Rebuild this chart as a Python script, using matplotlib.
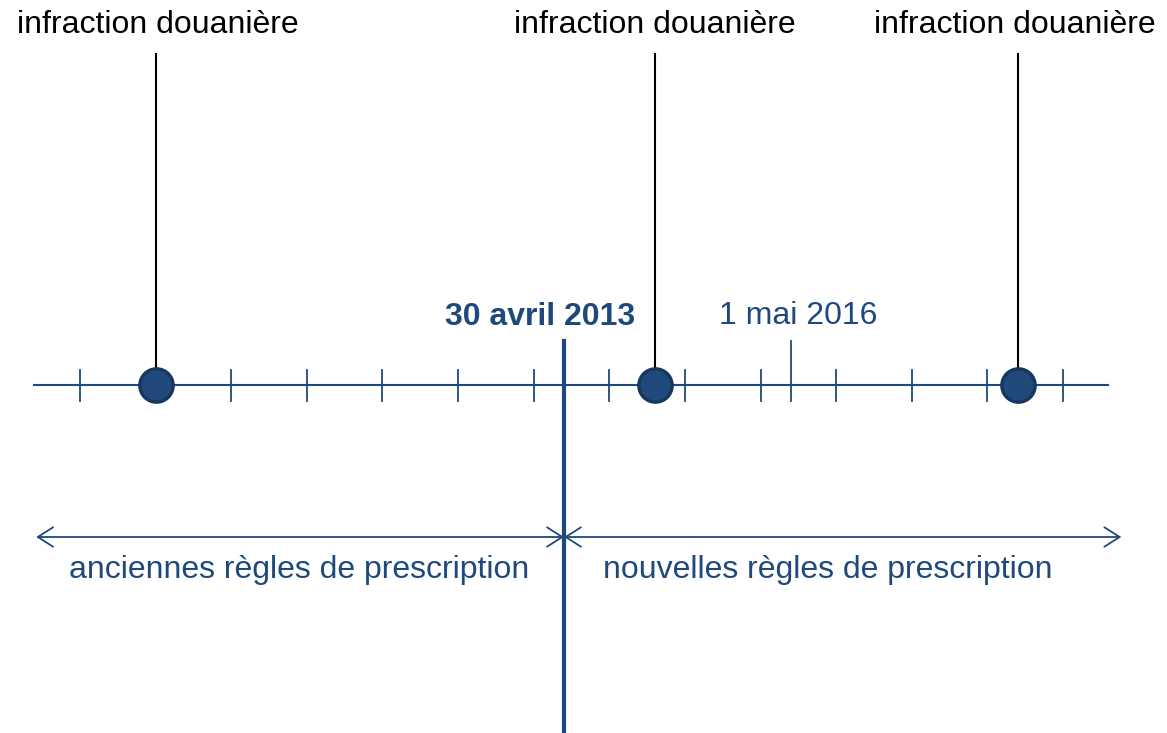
import matplotlib
matplotlib.use("Agg")
import matplotlib.pyplot as plt
import numpy as np

# years on the timeline (one tick per year)
tick_years = [2007, 2009, 2010, 2011, 2012, 2013, 2014, 2015, 2016, 2017, 2018, 2019, 2020]
event_years = [2008.0, 2014.60, 2019.40]
event_label = "infraction douanière"
pivot_year = 2013.40
pivot_label = "30 avril 2013"
mark_year = 2016.40
mark_label = "1 mai 2016"
period_labels = ["anciennes règles de prescription", "nouvelles règles de prescription"]
line_start, line_end = 2006.39, 2020.59
arrow_left, arrow_right = 2006.42, 2020.77

blue = "#1F497D"
dark = "#17375E"
plt.rcParams['font.family'] = ['Liberation Sans', 'DejaVu Sans']

fig = plt.figure(figsize=(11.67, 7.33), dpi=100)
ax = fig.add_axes([0, 0, 1, 1])
ax.set_xlim(2005.942, 2021.374)
ax.set_ylim(733, 0)
ax.axis("off")

# px per year, to place text offsets
ppy = 75.62

# main timeline
ax.plot([line_start, line_end], [385, 385], color=blue, lw=1.5, zorder=2)
for t in tick_years:
    ax.plot([t, t], [370, 401], color=blue, lw=1.3, zorder=2)
ax.plot([mark_year, mark_year], [341, 401], color=blue, lw=1.3, zorder=2)
ax.text(mark_year + 7 / ppy, 324, mark_label, ha="center", va="baseline",
        fontsize=23, color=blue)

# pivot line
ax.plot([pivot_year, pivot_year], [341, 733], color=blue, lw=3, zorder=3)
ax.text(pivot_year - 24 / ppy, 325, pivot_label, ha="center", va="baseline",
        fontsize=23, color=blue, fontweight="bold")

# events
label_shift = [2, 0, -3]
for e, dx in zip(event_years, label_shift):
    ax.plot([e, e], [54, 385], color="black", lw=1.5, zorder=3)
    ax.plot(e, 385, marker="o", ms=24, mfc="#21497C", mec=dark, mew=2.4, zorder=4)
    ax.text(e + dx / ppy, 33, event_label, ha="center", va="baseline",
            fontsize=23, color="black")

# periods
style = "<->,head_length=0.55,head_width=0.35"
ax.annotate("", xy=(arrow_left, 537), xytext=(pivot_year, 537),
            arrowprops=dict(arrowstyle=style, color=blue, lw=1.3,
                            mutation_scale=20, shrinkA=0, shrinkB=0))
ax.annotate("", xy=(pivot_year, 537), xytext=(arrow_right, 537),
            arrowprops=dict(arrowstyle=style, color=blue, lw=1.3,
                            mutation_scale=20, shrinkA=0, shrinkB=0))
ax.text(2009.90, 578, period_labels[0],
        ha="center", va="baseline", fontsize=23, color=blue)
ax.text(2016.89, 578, period_labels[1],
        ha="center", va="baseline", fontsize=23, color=blue)

fig.savefig("out.png", dpi=100)
